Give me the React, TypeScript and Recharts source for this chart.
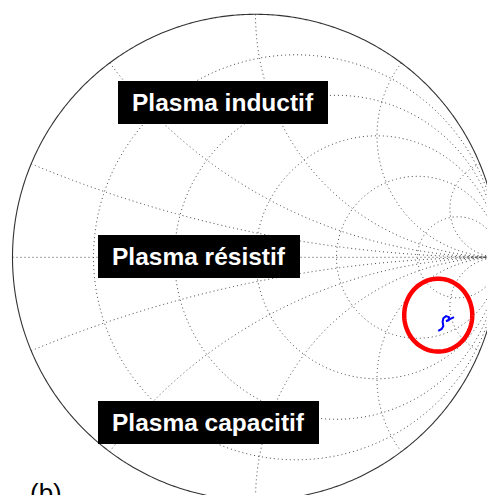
import React from "react";
import { ComposedChart, Line, XAxis, YAxis } from "recharts";

// Smith chart grid values
const resistanceValues = [0.2, 0.5, 1, 2, 5];
const reactanceValues = [0.2, 0.5, 1, 2, 5];

// measured reflection coefficient (real / imaginary part)
const traceRe = [0.752, 0.766, 0.773, 0.77, 0.773, 0.784, 0.796, 0.795, 0.784, 0.8, 0.817];
const traceIm = [-0.303, -0.295, -0.283, -0.265, -0.251, -0.242, -0.246, -0.259, -0.263, -0.254, -0.246];

// highlighted zone around the measurement
const markCenter = { re: 0.752, im: -0.238 };
const markRadius = { re: 0.14, im: 0.15 };

const labelTexts = ["Plasma inductif", "Plasma résistif", "Plasma capacitif"];
const panelLabel = "(b)";

const W = 487;
const H = 495;
const CX = 255.5;
const CY = 257.3;
const R = 243;
const xDomain = [-CX / R, (W - CX) / R];
const yDomain = [-(H - CY) / R, CY / R];

type P = { x: number; y: number };

const gamma = (r: number, x: number): P => {
  const d = (r + 1) * (r + 1) + x * x;
  return { x: (r * r + x * x - 1) / d, y: (2 * x) / d };
};

const circlePts = (cx: number, cy: number, rx: number, ry: number, n = 360): P[] => {
  const pts: P[] = [];
  for (let i = 0; i <= n; i++) {
    const a = (i / n) * Math.PI * 2;
    pts.push({ x: cx + rx * Math.cos(a), y: cy + ry * Math.sin(a) });
  }
  return pts;
};

const resistanceCircle = (r: number) => circlePts(r / (1 + r), 0, 1 / (1 + r), 1 / (1 + r));

const reactanceArc = (x: number): P[] => {
  const pts: P[] = [];
  const n = 300;
  for (let i = 0; i < n; i++) {
    const r = Math.tan((i / n) * (Math.PI / 2));
    pts.push(gamma(r, x));
  }
  pts.push({ x: 1, y: 0 });
  return pts;
};

const gridLines: { key: string; pts: P[] }[] = [
  { key: "axis", pts: [{ x: -1, y: 0 }, { x: 1, y: 0 }] },
  ...resistanceValues.map((r) => ({ key: "r" + r, pts: resistanceCircle(r) })),
  ...reactanceValues.flatMap((x) => [
    { key: "xp" + x, pts: reactanceArc(x) },
    { key: "xn" + x, pts: reactanceArc(-x) },
  ]),
];

const outer = circlePts(0, 0, 1, 1, 720);
const trace = traceRe.map((re, i) => ({ x: re, y: traceIm[i] }));
const mark = circlePts(markCenter.re, markCenter.im, markRadius.re, markRadius.im, 120);

const labelBoxes = [
  { left: 118, top: 81, width: 210 },
  { left: 98, top: 235, width: 202 },
  { left: 98, top: 401, width: 221 },
];

const labelStyle: React.CSSProperties = {
  position: "absolute",
  height: 43,
  lineHeight: "43px",
  background: "#000",
  color: "#fff",
  fontFamily: "'Liberation Sans', Arial, sans-serif",
  fontWeight: "bold",
  fontSize: 24.5,
  paddingLeft: 14,
  boxSizing: "border-box",
  whiteSpace: "nowrap",
};

export default function App() {
  return (
    <div
      style={{
        position: "absolute",
        left: 0,
        top: 0,
        width: W,
        height: H,
        overflow: "hidden",
        background: "#fff",
      }}
    >
      <ComposedChart width={W} height={H} margin={{ top: 0, right: 0, bottom: 0, left: 0 }}>
        <XAxis type="number" dataKey="x" domain={xDomain} allowDataOverflow hide />
        <YAxis type="number" dataKey="y" domain={yDomain} allowDataOverflow hide />
        {gridLines.map((g) => (
          <Line
            key={g.key}
            data={g.pts}
            dataKey="y"
            type="linear"
            stroke="#444"
            strokeWidth={1}
            strokeDasharray="1 3"
            dot={false}
            activeDot={false}
            isAnimationActive={false}
          />
        ))}
        <Line
          data={outer}
          dataKey="y"
          type="linear"
          stroke="#333"
          strokeWidth={1.1}
          dot={false}
          activeDot={false}
          isAnimationActive={false}
        />
        <Line
          data={mark}
          dataKey="y"
          type="linear"
          stroke="#ff0000"
          strokeWidth={4.5}
          dot={false}
          activeDot={false}
          isAnimationActive={false}
        />
        <Line
          data={trace}
          dataKey="y"
          type="linear"
          stroke="#0000ff"
          strokeWidth={2}
          dot={false}
          activeDot={false}
          isAnimationActive={false}
        />
      </ComposedChart>
      {labelTexts.map((t, i) => (
        <div key={t} style={{ ...labelStyle, ...labelBoxes[i] }}>
          {t}
        </div>
      ))}
      <div
        style={{
          position: "absolute",
          left: 30,
          top: 480,
          fontFamily: "'Liberation Sans', Arial, sans-serif",
          fontSize: 26,
          lineHeight: 1,
          color: "#000",
        }}
      >
        {panelLabel}
      </div>
    </div>
  );
}
